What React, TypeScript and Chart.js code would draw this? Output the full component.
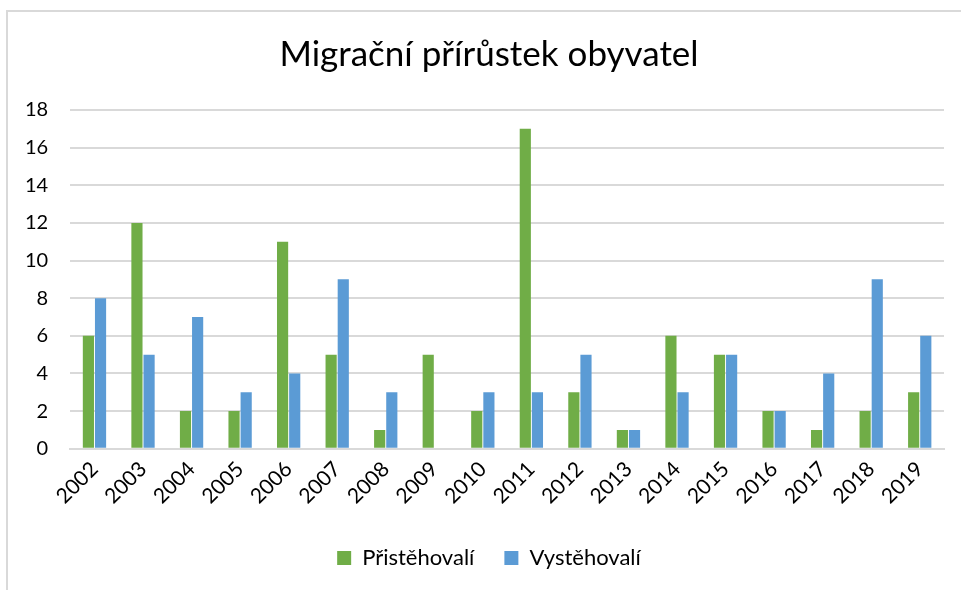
import React, { useEffect, useRef } from "react";
import { Chart, registerables } from "chart.js";

Chart.register(...registerables);

const years = ["2002","2003","2004","2005","2006","2007","2008","2009","2010","2011","2012","2013","2014","2015","2016","2017","2018","2019"];
const pristehovali = [6,12,2,2,11,5,1,5,2,17,3,1,6,5,2,1,2,3];
const vystehovali = [8,5,7,3,4,9,3,0,3,3,5,1,3,5,2,4,9,6];
const yTicks = [0,2,4,6,8,10,12,14,16,18];

const FONT = "Lato, 'Open Sans', sans-serif";

export default function App() {
  const ref = useRef<HTMLCanvasElement>(null);
  useEffect(() => {
    if (!ref.current) return;
    const chart = new Chart(ref.current, {
      type: "bar",
      data: {
        labels: years,
        datasets: [
          { label: "Přistěhovalí", data: pristehovali, backgroundColor: "#70AD47", categoryPercentage: 0.5, barPercentage: 0.92 },
          { label: "Vystěhovalí", data: vystehovali, backgroundColor: "#5B9BD5", categoryPercentage: 0.5, barPercentage: 0.92 },
        ],
      },
      options: {
        animation: false,
        responsive: false,
        maintainAspectRatio: false,
        layout: { padding: { left: 3, right: 15, top: 34, bottom: 11 } },
        plugins: {
          title: {
            display: true,
            text: "Migrační přírůstek obyvatel",
            color: "#000",
            font: { family: FONT, size: 35, weight: "normal" },
            padding: { top: 0, bottom: 34 },
          },
          legend: {
            position: "bottom",
            labels: {
              color: "#000",
              font: { family: FONT, size: 22 },
              boxWidth: 14,
              boxHeight: 14,
              padding: 30,
            },
          },
          tooltip: { enabled: false },
        },
        scales: {
          x: {
            grid: { display: false, drawTicks: false },
            border: { color: "#d9d9d9", width: 2 },
            ticks: { color: "#000", font: { family: FONT, size: 21 }, minRotation: 45, maxRotation: 45, padding: 8 },
          },
          y: {
            min: 0,
            max: 18,
            afterBuildTicks: (axis: any) => { axis.ticks = yTicks.map((v) => ({ value: v })); },
            grid: { color: "#d9d9d9", lineWidth: 2, drawTicks: false },
            border: { display: false },
            ticks: { color: "#000", font: { family: FONT, size: 20 }, padding: 22 },
          },
          y2: {
            position: "right",
            display: true,
            min: 0,
            max: 18,
            grid: { display: false, drawTicks: false },
            border: { display: false },
            ticks: { display: false },
            afterFit: (axis: any) => { axis.width = 31; },
          },
        },
      },
    });
    return () => chart.destroy();
  }, []);
  return (
    <div style={{ position: "fixed", left: 0, top: 0, width: 961, height: 590, background: "#fff", overflow: "hidden" }}>
      <div style={{ position: "absolute", left: 6, top: 10, width: 1000, height: 1000, border: "2px solid #d9d9d9", boxSizing: "border-box" }} />
      <canvas ref={ref} width={990} height={590} style={{ position: "absolute", left: 0, top: 0 }} />
    </div>
  );
}
